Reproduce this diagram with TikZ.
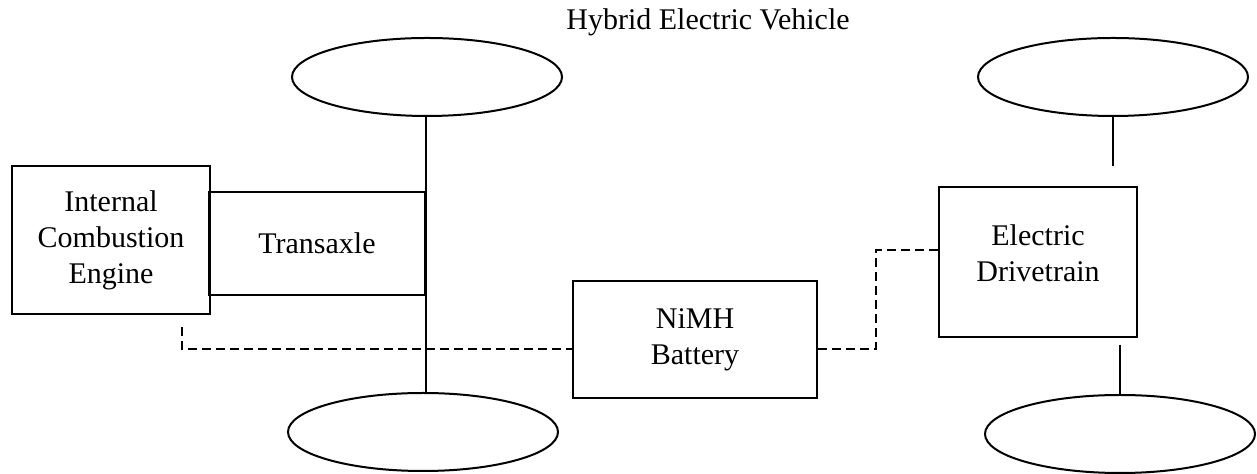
\documentclass[tikz,border=0pt]{standalone}
\usepackage{fontspec}
\setmainfont{Liberation Serif}
\usetikzlibrary{shapes.geometric,positioning}

\begin{document}
\begin{tikzpicture}[x=0.5pt,y=-0.5pt,font=\fontsize{15}{18}\selectfont,line width=1pt,
 b/.style={draw,align=center,inner sep=0pt},
 w/.style={draw,ellipse,minimum width=135pt,minimum height=39pt,inner sep=0pt},
 d/.style={dash pattern=on 4.5pt off 2.5pt}]
\useasboundingbox (0,0) rectangle (1257,474);
\node(title) at (708,22){Hybrid Electric Vehicle};
\node[w](wfl) at (427,77){};\node[w](wrl) at (423,432){};
\node[w](wfr) at (1113,77){};\node[w](wrr) at (1120,434){};
\node[b,minimum width=99pt,minimum height=74pt](ice) at (111,240){Internal\\Combustion\\Engine};
\node[b,minimum width=108pt,minimum height=51.5pt](tx) at (317,243.5){Transaxle};
\node[b,minimum width=122pt,minimum height=58.5pt](bat) at (695,339.5){NiMH\\Battery};
\node[b,minimum width=99pt,minimum height=75pt](edt) at (1038,262){};
\node[align=center](edtl) at ([yshift=4.5pt]edt.center){Electric\\Drivetrain};
\coordinate(af) at (1113,166);\coordinate(ar) at (1120,345);\coordinate(ic) at (182,327);
\draw(wfl.south -| tx.east)--(wrl.north -| tx.east);
\draw(wfr.south)--(af);\draw(ar)--(wrr.north);
\draw[d](ic)|-([yshift=-4.75pt]bat.west);
\draw[d]([yshift=-4.75pt]bat.east)--++(58,0)|-([yshift=6pt]edt.west);
\end{tikzpicture}
\end{document}
